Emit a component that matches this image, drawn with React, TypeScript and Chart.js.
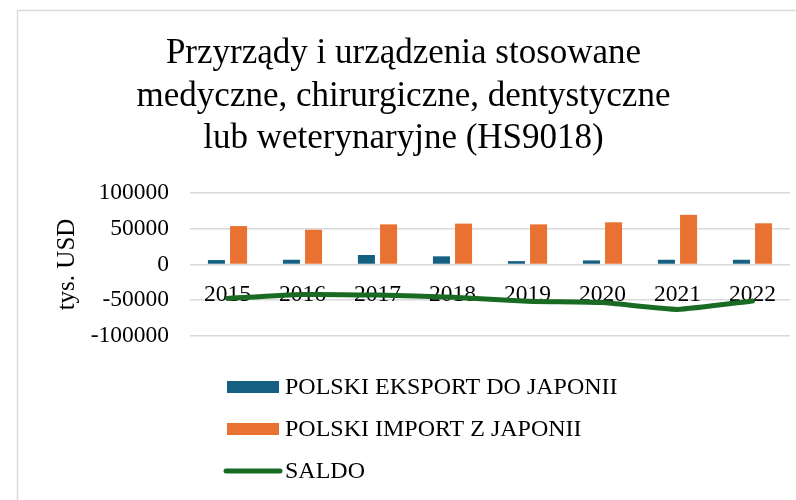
import React, { useEffect, useRef } from "react";
import { Chart, registerables } from "chart.js";

Chart.register(...registerables);

const years = ["2015", "2016", "2017", "2018", "2019", "2020", "2021", "2022"];
const exportValues = [6200, 6600, 13300, 11400, 4700, 5700, 6600, 6600];
const importValues = [53700, 48600, 56100, 57100, 56100, 59000, 69400, 57600];
const saldoValues = [-47500, -42000, -42800, -45700, -51400, -53300, -62800, -51000];
const yMin = -100000;
const yMax = 100000;
const yStep = 50000;
const titleLines = [
  "Przyrządy i urządzenia stosowane",
  "medyczne, chirurgiczne, dentystyczne",
  "lub weterynaryjne (HS9018)",
];
const yAxisTitle = "tys. USD";
const seriesNames = ["POLSKI EKSPORT DO JAPONII", "POLSKI IMPORT Z JAPONII", "SALDO"];
const seriesColors = ["#156082", "#E97132", "#196B24"];

const FONT = "'Liberation Serif', 'Times New Roman', serif";

const framePlugin = {
  id: "frame",
  beforeDraw(chart: any) {
    const ctx = chart.ctx;
    ctx.save();
    ctx.fillStyle = "#ffffff";
    ctx.fillRect(0, 0, chart.width, chart.height);
    ctx.strokeStyle = "#d9d9d9";
    ctx.lineWidth = 1.5;
    ctx.strokeRect(17.5, 10.5, 900, 700);
    ctx.restore();
  },
};

const legendPlugin = {
  id: "vlegend",
  afterDraw(chart: any) {
    const ctx = chart.ctx;
    const x0 = 227;
    const rows = [387, 429, 471];
    ctx.save();
    chart.data.datasets.forEach((ds: any, i: number) => {
      const y = rows[i];
      if (ds.type === "line") {
        ctx.strokeStyle = ds.borderColor;
        ctx.lineWidth = 5;
        ctx.lineCap = "round";
        ctx.beginPath();
        ctx.moveTo(x0 - 1, y);
        ctx.lineTo(x0 + 53, y);
        ctx.stroke();
      } else {
        ctx.fillStyle = ds.backgroundColor;
        ctx.fillRect(x0, y - 6, 52, 12);
      }
      ctx.fillStyle = "#000000";
      ctx.font = `24px ${FONT}`;
      ctx.textBaseline = "middle";
      ctx.textAlign = "left";
      ctx.fillText(ds.label, x0 + 58, y + 1);
    });
    ctx.restore();
  },
};

function App() {
  const ref = useRef<HTMLCanvasElement | null>(null);
  useEffect(() => {
    if (!ref.current) return;
    const chart = new Chart(ref.current, {
      type: "bar",
      data: {
        labels: years,
        datasets: [
          {
            type: "bar",
            label: seriesNames[0],
            data: exportValues,
            backgroundColor: seriesColors[0],
            barPercentage: 0.77,
            categoryPercentage: 0.59,
            order: 2,
          },
          {
            type: "bar",
            label: seriesNames[1],
            data: importValues,
            backgroundColor: seriesColors[1],
            barPercentage: 0.77,
            categoryPercentage: 0.59,
            order: 2,
          },
          {
            type: "line",
            label: seriesNames[2],
            data: saldoValues,
            borderColor: seriesColors[2],
            backgroundColor: seriesColors[2],
            borderWidth: 5,
            borderCapStyle: "round",
            borderJoinStyle: "round",
            pointRadius: 0,
            tension: 0.15,
            order: 1,
          } as any,
        ],
      },
      options: {
        animation: false,
        responsive: false,
        layout: { padding: { left: 17, top: 10, right: 6, bottom: 164 } },
        plugins: {
          legend: { display: false },
          tooltip: { enabled: false },
          title: {
            display: true,
            text: titleLines,
            color: "#000000",
            font: { family: FONT, size: 35, weight: "normal", lineHeight: 1.214 },
            padding: { top: 23, bottom: 32.5 },
          },
        },
        scales: {
          x: {
            position: { y: 0 } as any,
            z: 1,
            grid: { display: false, drawTicks: false },
            border: { display: false },
            ticks: {
              color: "#000000",
              font: { family: FONT, size: 23.5 },
              padding: 16,
              maxRotation: 0,
            },
          },
          y: {
            min: yMin,
            max: yMax,
            afterFit(scale: any) {
              scale.width = 173;
            },
            grid: { color: "#d9d9d9", lineWidth: 1.5, drawTicks: false },
            border: { display: false },
            ticks: {
              stepSize: yStep,
              color: "#000000",
              font: { family: FONT, size: 23.5 },
              padding: 21,
              callback: (v: any) => String(v),
            },
            title: {
              display: true,
              text: yAxisTitle,
              color: "#000000",
              font: { family: FONT, size: 25 },
              padding: { top: 35, bottom: 0 },
            },
          },
        },
      },
      plugins: [framePlugin, legendPlugin],
    });
    return () => chart.destroy();
  }, []);
  return (
    <div style={{ position: "absolute", left: 0, top: 0, width: 796, height: 500, background: "#fff" }}>
      <canvas ref={ref} width={796} height={500} style={{ display: "block" }} />
    </div>
  );
}

export default App;
